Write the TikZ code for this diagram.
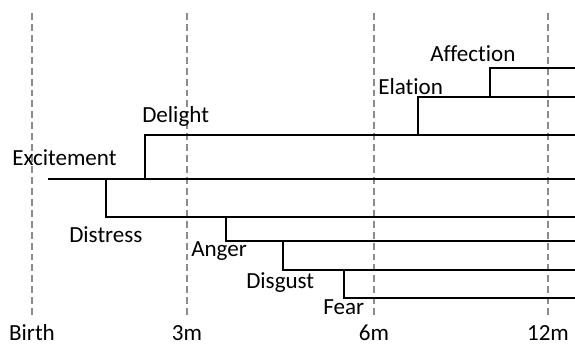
\documentclass[tikz,border=0pt]{standalone}
\usepackage{fontspec}
\setmainfont{Carlito}[Ligatures={NoCommon}]
\usepackage{xcolor}
\usepackage{tikz}
\definecolor{guide}{HTML}{8C8C8C}
\definecolor{ink}{HTML}{000000}
\tikzset{
  guideline/.style={draw=guide, line width=1.2pt, dash pattern=on 5.2pt off 3pt},
  branch/.style={draw=ink, line width=2.2pt},
  lab/.style={text=ink, inner sep=0pt, anchor=base west, font=\fontsize{17.3}{20}\selectfont},
  axlab/.style={lab, anchor=base}
}
\begin{document}
\begin{tikzpicture}[x=0.75pt,y=-0.75pt]
  \useasboundingbox (0,0) rectangle (575,345);

  % age guides
  \foreach \gx/\gname/\gtext in {32/birth/Birth,187/three/3m,374/six/6m,548/twelve/12m}{
    \draw[guideline] (\gx,13) -- (\gx,318);
    \node[axlab] (\gname) at (\gx,341) {\gtext};
  }

  \def\xR{575}

  % Excitement is the root, the rest branch off it
  \coordinate (exc0) at (48,179);
  \coordinate (excE) at (\xR,179);
  \draw[branch] (exc0) -- (excE);

  % positive side
  \coordinate (del0) at (145,179);
  \coordinate (delE) at (\xR,135);
  \draw[branch] (del0) |- (delE);
  \coordinate (ela0) at (418,135);
  \coordinate (elaE) at (\xR,97);
  \draw[branch] (ela0) |- (elaE);
  \coordinate (aff0) at (490,97);
  \coordinate (affE) at (\xR,68);
  \draw[branch] (aff0) |- (affE);

  % negative side
  \coordinate (dis0) at (106,179);
  \coordinate (disE) at (\xR,217);
  \draw[branch] (dis0) |- (disE);
  \coordinate (ang0) at (226,217);
  \coordinate (angE) at (\xR,241);
  \draw[branch] (ang0) |- (angE);
  \coordinate (dsg0) at (283,241);
  \coordinate (dsgE) at (\xR,270);
  \draw[branch] (dsg0) |- (dsgE);
  \coordinate (fear0) at (344,270);
  \coordinate (fearE) at (\xR,298);
  \draw[branch] (fear0) |- (fearE);

  \node[lab] (excitement) at (12,166) {Excitement};
  \node[lab] (delight) at (142,123) {Delight};
  \node[lab] (elation) at (378,95) {Elation};
  \node[lab] (affection) at (430,62) {Affection};
  \node[lab] (distress) at (69,243) {Distress};
  \node[lab] (anger) at (191,257) {Anger};
  \node[lab] (disgust) at (246,289) {Disgust};
  \node[lab] (fear) at (323,315) {Fear};
\end{tikzpicture}
\end{document}
